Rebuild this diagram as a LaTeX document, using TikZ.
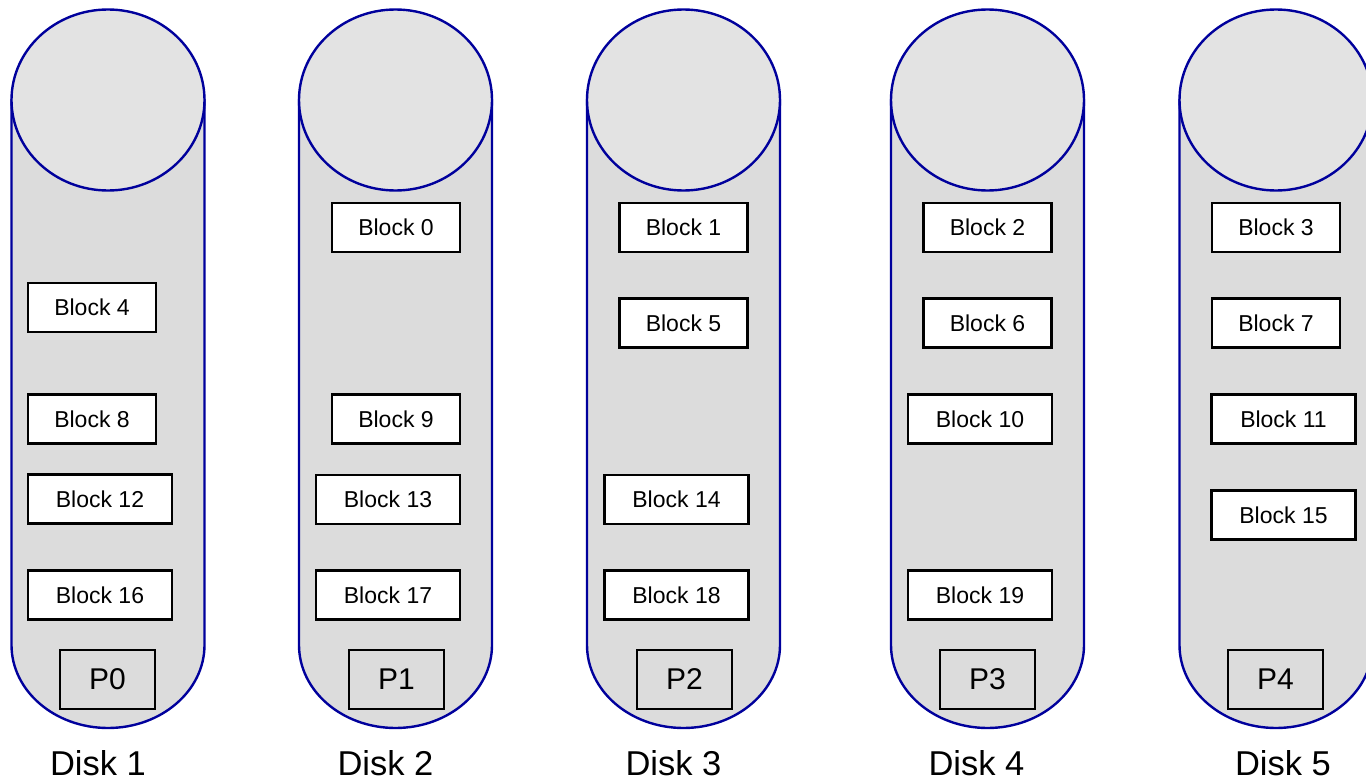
\documentclass[tikz,border=0pt]{standalone}
\usepackage{fontspec}
\setmainfont{Liberation Sans}
\definecolor{diskblue}{HTML}{00009C}
\definecolor{bodygray}{HTML}{DCDCDC}
\definecolor{topgray}{HTML}{E3E3E3}
\tikzset{
  diskbody/.style={fill=bodygray, draw=diskblue, line width=2.4pt},
  disktop/.style={fill=topgray, draw=diskblue, line width=2.4pt},
  blockbox/.style={draw=black, fill=white, line width=2.3pt, minimum width=128pt,
    minimum height=49pt, inner sep=0pt, font=\fontsize{23}{23}\selectfont},
  wideblock/.style={blockbox, minimum width=144pt},
  pbox/.style={draw=black, line width=2.3pt, minimum width=95pt, minimum height=59pt,
    inner sep=0pt, font=\fontsize{30}{30}\selectfont},
  disklabel/.style={anchor=base, inner sep=0pt, font=\fontsize{34.5}{34.5}\selectfont}
}
\newcommand\mydisk[1]{%
  \path[diskbody] (#1-96.5,100) -- (#1-96.5,645)
    arc[start angle=180, end angle=360, x radius=96.5pt, y radius=83pt]
    -- (#1+96.5,100) -- cycle;
  \path[disktop] (#1,100) ellipse[x radius=96.5pt, y radius=90.5pt];
}
\begin{document}
\begin{tikzpicture}[x=1pt,y=-1pt]
\useasboundingbox (0,0) rectangle (1366,781);
\clip (0,0) rectangle (1366,781);
% disks
\mydisk{108}
\mydisk{395.5}
\mydisk{683.5}
\mydisk{987.5}
\mydisk{1276}
% Disk 1
\node[blockbox] (b4) at (92,307.5) {Block 4};
\node[blockbox] (b8) at (92,419) {Block 8};
\node[wideblock] (b12) at (100,499) {Block 12};
\node[wideblock] (b16) at (100,595) {Block 16};
\node[pbox] (p0) at (107.5,679.5) {P0};
\node[disklabel] (d1) at (98,775) {Disk 1};
% Disk 2
\node[blockbox] (b0) at (396,227.5) {Block 0};
\node[blockbox] (b9) at (396,419) {Block 9};
\node[wideblock] (b13) at (388,499.5) {Block 13};
\node[wideblock] (b17) at (388,595) {Block 17};
\node[pbox] (p1) at (396.5,679.5) {P1};
\node[disklabel] (d2) at (385.5,775) {Disk 2};
% Disk 3
\node[blockbox] (b1) at (683.5,227.5) {Block 1};
\node[blockbox] (b5) at (683.5,323) {Block 5};
\node[wideblock] (b14) at (676.5,499.5) {Block 14};
\node[wideblock] (b18) at (676.5,595) {Block 18};
\node[pbox] (p2) at (684.5,679.5) {P2};
\node[disklabel] (d3) at (673.5,775) {Disk 3};
% Disk 4
\node[blockbox] (b2) at (987.5,227.5) {Block 2};
\node[blockbox] (b6) at (987.5,323) {Block 6};
\node[wideblock] (b10) at (980,419) {Block 10};
\node[wideblock] (b19) at (980,595) {Block 19};
\node[pbox] (p3) at (987.5,679.5) {P3};
\node[disklabel] (d4) at (976.5,775) {Disk 4};
% Disk 5
\node[blockbox] (b3) at (1276,227.5) {Block 3};
\node[blockbox] (b7) at (1276,323) {Block 7};
\node[wideblock] (b11) at (1283.5,419) {Block 11};
\node[wideblock] (b15) at (1283.5,515) {Block 15};
\node[pbox] (p4) at (1275.5,679.5) {P4};
\node[disklabel] (d5) at (1283,775) {Disk 5};
\end{tikzpicture}
\end{document}
